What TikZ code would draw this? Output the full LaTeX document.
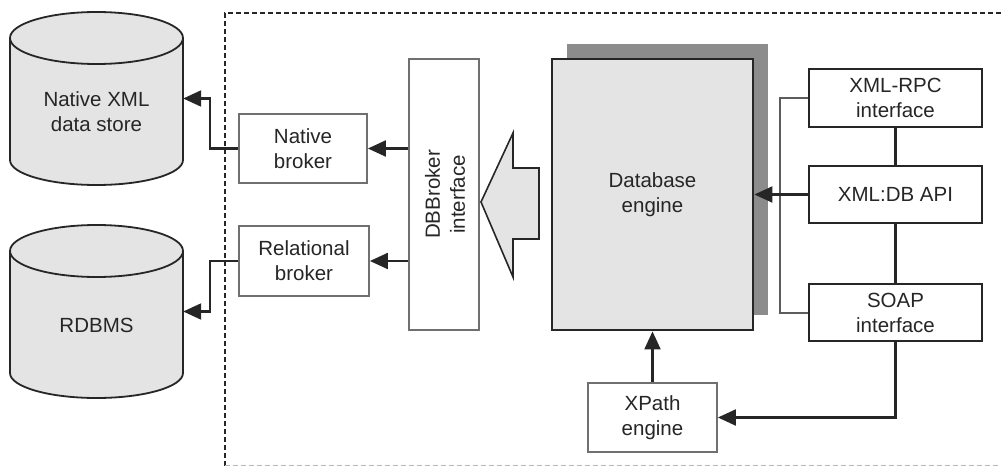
\documentclass[tikz,border=0pt]{standalone}
\usepackage{fontspec}
\setmainfont{Liberation Sans}
\usetikzlibrary{positioning,arrows.meta,shadows}
\definecolor{boxfill}{HTML}{E4E4E4}
\definecolor{shadowgray}{HTML}{8C8C8C}
\definecolor{linegray}{HTML}{262626}
\definecolor{thingray}{HTML}{707070}

\begin{document}
\begin{tikzpicture}[x=1pt,y=-1pt,
    every node/.style={font=\fontsize{20.5}{25}\selectfont,text=linegray,align=center,inner sep=0pt},
    storeline/.style={draw=linegray,line width=1.8pt,fill=boxfill},
    lightbox/.style={draw=thingray,line width=1.8pt,fill=white},
    darkbox/.style={draw=linegray,line width=2.2pt,fill=white,minimum width=173pt},
    link/.style={draw=linegray,line width=2.1pt},
    headed/.style={-{Triangle[length=18pt,width=16pt]}}]

    \useasboundingbox (0,0) rectangle (1001,468);

    %Cadre pointille
    \draw[linegray,line width=1.5pt,dash pattern=on 5pt off 3pt] (1001,13) -- (225,13) -- (225,468);
    \draw[thingray!50,line width=1pt,dash pattern=on 5pt off 3pt] (225,465) -- (1001,465);

    %Bases de donnees
    \node[minimum width=173pt,minimum height=173pt] (nativestore) at (96.5,98.5) {};
    \draw[storeline] (96.5,160) ellipse (86.5 and 25);
    \fill[boxfill] (10,38) rectangle (183,160);
    \draw[linegray,line width=1.8pt] (10,38) -- (10,160) (183,38) -- (183,160);
    \draw[storeline] (96.5,38) ellipse (86.5 and 26);
    \node (nativestoretext) at (96.5,112) {Native XML\\data store};

    \node[minimum width=173pt,minimum height=173pt] (rdbms) at (96.5,311.5) {};
    \draw[storeline] (96.5,373) ellipse (86.5 and 25);
    \fill[boxfill] (10,251) rectangle (183,373);
    \draw[linegray,line width=1.8pt] (10,251) -- (10,373) (183,251) -- (183,373);
    \draw[storeline] (96.5,251) ellipse (86.5 and 26);
    \node (rdbmstext) at (96.5,325) {RDBMS};

    %Brokers
    \node[lightbox,minimum width=128pt,minimum height=69pt] (nativebroker) at (303,148.5) {Native\\broker};
    \node[lightbox,minimum width=130pt,minimum height=70pt] (relbroker) at (304,261) {Relational\\broker};
    \node[lightbox,minimum width=70pt,minimum height=271pt] (dbbroker) at (444,194.5) {};
    \node[rotate=90] (dbbrokertext) at (445,194.5) {DBBroker\\interface};

    %Fleche creuse
    \draw[linegray,line width=1.6pt,fill=boxfill] (481,202) -- (513,133) -- (513,168) -- (539,168)
        -- (539,239) -- (513,239) -- (513,277) -- cycle;

    %Moteur
    \node[draw=linegray,line width=2.8pt,fill=boxfill,minimum width=201pt,minimum height=271pt,
        drop shadow={shadow xshift=15pt,shadow yshift=15pt,fill=shadowgray,opacity=1}]
        (engine) at (652.5,194.5) {Database\\engine};

    %Interfaces
    \node[darkbox,minimum height=58pt] (xmlrpc) at (895.5,98) {XML-RPC\\interface};
    \node[darkbox,minimum height=57pt] (xmldb) at (895.5,194.5) {XML:DB API};
    \node[darkbox,minimum height=57pt] (soap) at (895.5,312.5) {SOAP\\interface};
    \node[lightbox,minimum width=129pt,minimum height=69pt] (xpath) at (652.5,417.5) {XPath\\engine};

    %Liens
    \draw[link,headed] (nativebroker.west) -- ++(-28,0) |- (nativestore.east);
    \draw[link,headed] (relbroker.west) -- ++(-28,0) |- (rdbms.east);
    \draw[link,headed] (dbbroker.west |- nativebroker) -- (nativebroker.east);
    \draw[link,headed] (dbbroker.west |- relbroker) -- (relbroker.east);

    \draw[link] (xmlrpc.south) -- (xmldb.north);
    \draw[link] (xmldb.south) -- (soap.north);
    \draw[link,draw=linegray!75,line width=2pt] (xmlrpc.west) -- ++(-28,0) |- (soap.west);
    \draw[link,headed] (xmldb.west) -- (engine.east);
    \draw[link,headed] (soap.south) |- (xpath.east);
    \draw[link,headed] (xpath.north) -- (engine.south);

\end{tikzpicture}
\end{document}
